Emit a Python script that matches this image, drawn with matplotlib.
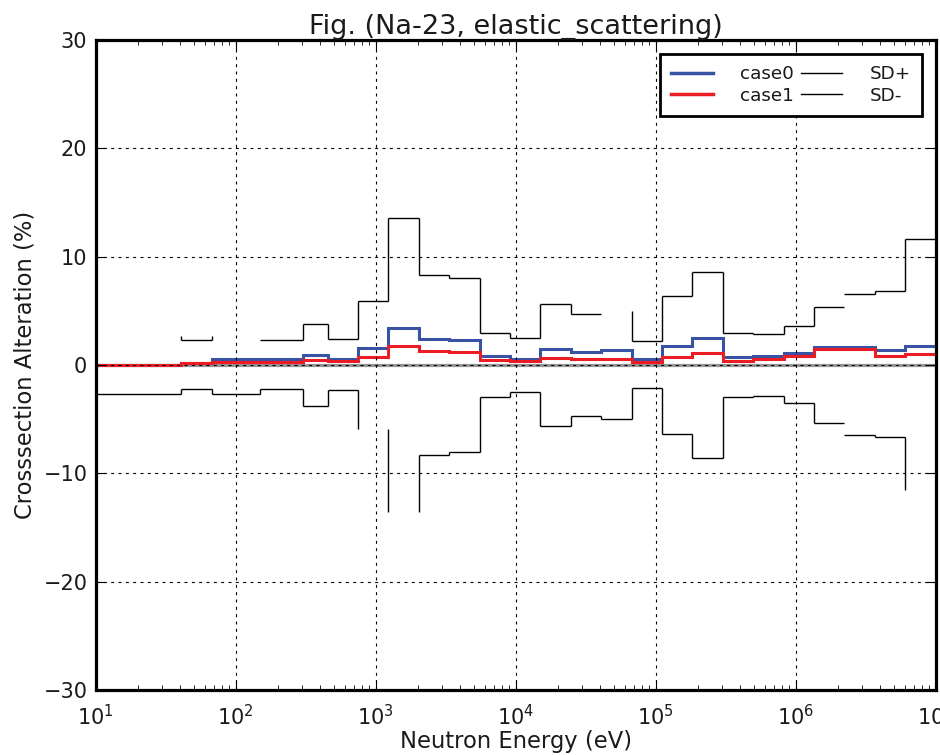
import numpy as np
import matplotlib
matplotlib.use("Agg")
import matplotlib.pyplot as plt
from matplotlib.collections import LineCollection
from matplotlib.lines import Line2D

# ---- data ----
edges = [10, 40.5, 67.4, 149, 305, 454, 749, 1234, 2035, 3355, 5531, 9119,
         15034, 24788, 40868, 67379, 111090, 183156, 301974, 497871, 820850,
         1353353, 2231302, 3678794, 6065307, 1e7]
case0 = [0.0, 0.15, 0.52, 0.52, 0.92, 0.52, 1.54, 3.42, 2.43, 2.34, 0.86, 0.55,
         1.48, 1.2, 1.4, 0.55, 1.77, 2.5, 0.77, 0.86, 1.11, 1.65, 1.65, 1.4, 1.75]
case1 = [0.0, 0.15, 0.3, 0.3, 0.43, 0.33, 0.75, 1.78, 1.33, 1.24, 0.49, 0.37,
         0.65, 0.58, 0.57, 0.29, 0.78, 1.11, 0.35, 0.52, 0.86, 1.48, 1.48, 0.86, 1.0]
sd_plus = [2.68, 2.3, 2.68, 2.35, 3.82, 2.4, 5.88, 13.6, 8.3, 8.0, 2.93, 2.5,
           5.6, 4.75, 4.98, 2.25, 6.4, 8.55, 2.94, 2.85, 3.62, 5.34, 6.53, 6.8, 11.65]
sd_minus = [-2.68, -2.2, -2.68, -2.25, -3.8, -2.35, -5.88, -13.6, -8.3, -8.0, -2.95, -2.45,
            -5.63, -4.71, -4.98, -2.16, -6.35, -8.55, -2.92, -2.82, -3.54, -5.32, -6.43, -6.61, -11.5]
# segments that are not rendered in the reference (group index / boundary index)
sd_plus_hidden_h = [0, 2, 14]
sd_plus_hidden_v = [3, 14, 22]
sd_minus_hidden_h = [6, 7, 24]
sd_minus_hidden_v = [22]

title = "Fig. (Na-23, elastic_scattering)"
xlabel = "Neutron Energy (eV)"
ylabel = "Crosssection Alteration (%)"

BLUE = "#3853a4"
RED = "#ec1c24"

plt.rcParams["font.family"] = ["DejaVu Sans"]

fig = plt.figure(figsize=(9.4, 7.55), dpi=100)
ax = fig.add_axes([0.1018, 0.0861, 0.8936, 0.8609])


def step_segments(vals, hidden_h, hidden_v):
    segs = []
    for i, v in enumerate(vals):
        if i not in hidden_h:
            segs.append([(edges[i], v), (edges[i + 1], v)])
        if i > 0 and i not in hidden_v:
            segs.append([(edges[i], vals[i - 1]), (edges[i], v)])
    return segs


ax.axhline(0, color="0.58", lw=2.3, zorder=1.5)

for vals, hh, hv in [(sd_plus, sd_plus_hidden_h, sd_plus_hidden_v),
                     (sd_minus, sd_minus_hidden_h, sd_minus_hidden_v)]:
    lc = LineCollection(step_segments(vals, hh, hv), colors="black",
                        linewidths=1.0, zorder=2)
    ax.add_collection(lc)

ax.stairs(case0, edges, baseline=None, color=BLUE, lw=2.2, zorder=2.2)
ax.stairs(case1, edges, baseline=None, color=RED, lw=2.2, zorder=2.3)

ax.set_xscale("log")
ax.set_xlim(10, 1e7)
ax.set_ylim(-30, 30)
ax.set_yticks([-30, -20, -10, 0, 10, 20, 30])

ax.set_axisbelow(False)
ax.grid(True, which="major", color="black", lw=0.8,
        linestyle=(0, (2.7, 3.9)), zorder=2.5)

for s in ax.spines.values():
    s.set_linewidth(2.3)
    s.set_zorder(3)

ax.tick_params(which="both", direction="in", top=True, right=True,
               labelsize=15, color="black", labelcolor="#1a1a1a")
ax.tick_params(axis="y", pad=6)
ax.tick_params(axis="x", pad=10)
ax.tick_params(which="major", length=7, width=0.8)
ax.tick_params(which="minor", length=3.5, width=0.6)

ax.set_title(title, fontsize=19.5, pad=3, color="#1a1a1a")
ax.set_xlabel(xlabel, fontsize=16.3, labelpad=1, color="#1a1a1a")
ax.set_ylabel(ylabel, fontsize=16.3, labelpad=5, color="#1a1a1a")

handles = [Line2D([], [], color=BLUE, lw=2.5), Line2D([], [], color=RED, lw=2.5),
           Line2D([], [], color="black", lw=1.0), Line2D([], [], color="black", lw=1.0)]
labels = ["case0", "case1", "SD+", "SD-"]
leg = ax.legend(handles, labels, loc="upper right", ncol=2, fontsize=13.2,
                handlelength=2.25, handletextpad=1.5, columnspacing=0.36,
                labelspacing=0.2, borderpad=0.6, borderaxespad=0.77,
                fancybox=False, framealpha=1, edgecolor="black")
leg.get_frame().set_linewidth(2.0)
for t in leg.get_texts():
    t.set_color("#1a1a1a")

fig.savefig("out.png", dpi=100)
